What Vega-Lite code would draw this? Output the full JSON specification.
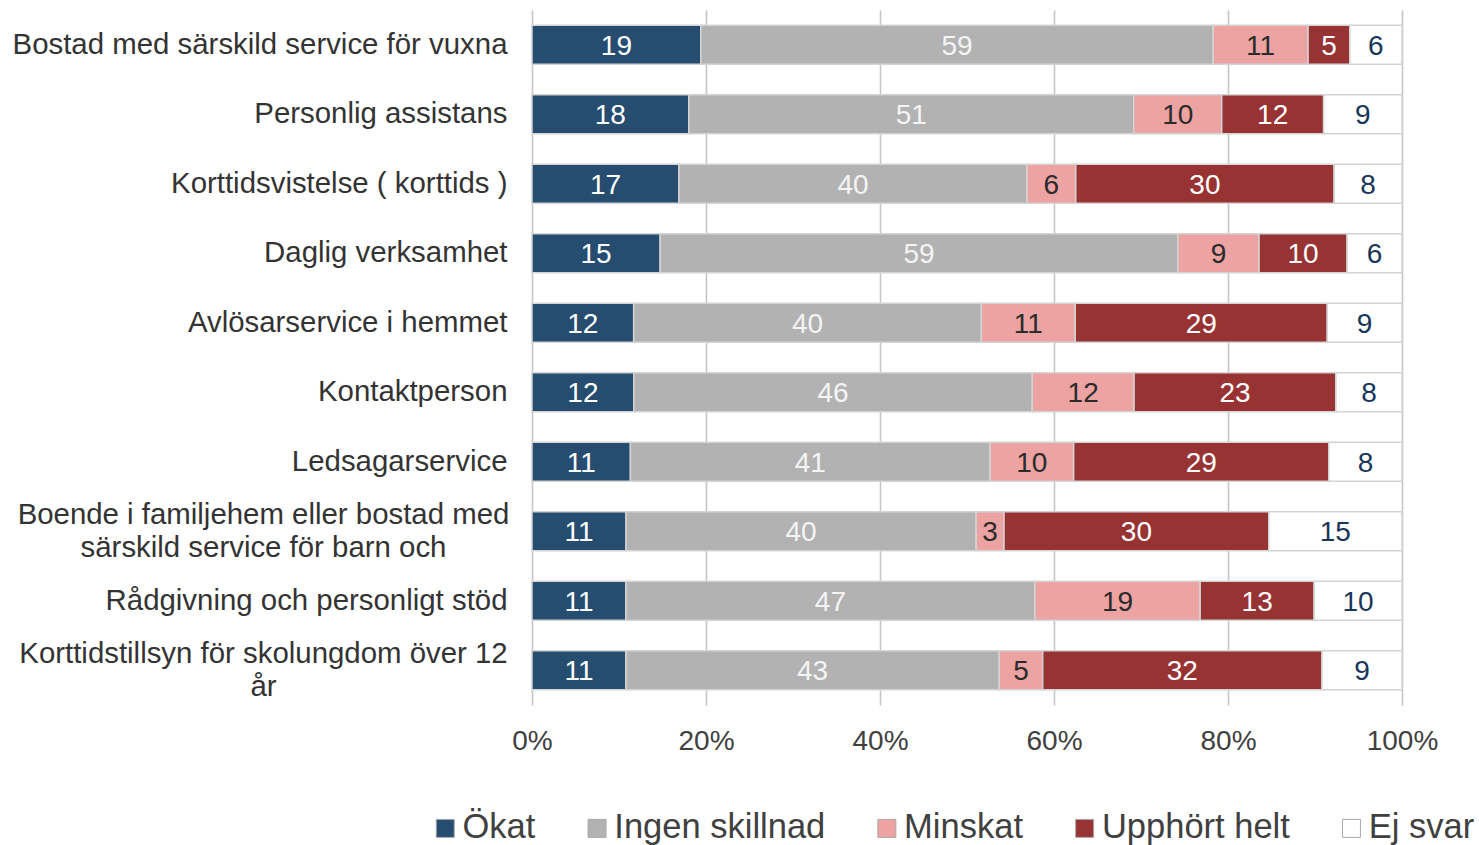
{
  "$schema": "https://vega.github.io/schema/vega-lite/v6.json",
  "width": 870,
  "height": 695,
  "autosize": {"type": "none"},
  "padding": {"left": 532, "top": 10, "right": 77, "bottom": 140},
  "background": "white",
  "config": {
    "view": {"stroke": null},
    "font": "Liberation Sans",
    "axis": {"labelFont": "Liberation Sans", "labelColor": "#404040"}
  },
  "data": {
    "values": [
      {"service": "Bostad med särskild service för vuxna", "cat": "Ökat", "value": 19.4},
      {"service": "Bostad med särskild service för vuxna", "cat": "Ingen skillnad", "value": 58.9},
      {"service": "Bostad med särskild service för vuxna", "cat": "Minskat", "value": 10.9},
      {"service": "Bostad med särskild service för vuxna", "cat": "Upphört helt", "value": 4.8},
      {"service": "Bostad med särskild service för vuxna", "cat": "Ej svar", "value": 6.0},
      {"service": "Personlig assistans", "cat": "Ökat", "value": 18.0},
      {"service": "Personlig assistans", "cat": "Ingen skillnad", "value": 51.1},
      {"service": "Personlig assistans", "cat": "Minskat", "value": 10.1},
      {"service": "Personlig assistans", "cat": "Upphört helt", "value": 11.7},
      {"service": "Personlig assistans", "cat": "Ej svar", "value": 9.0},
      {"service": "Korttidsvistelse ( korttids )", "cat": "Ökat", "value": 16.9},
      {"service": "Korttidsvistelse ( korttids )", "cat": "Ingen skillnad", "value": 40.0},
      {"service": "Korttidsvistelse ( korttids )", "cat": "Minskat", "value": 5.6},
      {"service": "Korttidsvistelse ( korttids )", "cat": "Upphört helt", "value": 29.7},
      {"service": "Korttidsvistelse ( korttids )", "cat": "Ej svar", "value": 7.8},
      {"service": "Daglig verksamhet", "cat": "Ökat", "value": 14.7},
      {"service": "Daglig verksamhet", "cat": "Ingen skillnad", "value": 59.4},
      {"service": "Daglig verksamhet", "cat": "Minskat", "value": 9.3},
      {"service": "Daglig verksamhet", "cat": "Upphört helt", "value": 10.1},
      {"service": "Daglig verksamhet", "cat": "Ej svar", "value": 6.3},
      {"service": "Avlösarservice i hemmet", "cat": "Ökat", "value": 11.7},
      {"service": "Avlösarservice i hemmet", "cat": "Ingen skillnad", "value": 40.0},
      {"service": "Avlösarservice i hemmet", "cat": "Minskat", "value": 10.8},
      {"service": "Avlösarservice i hemmet", "cat": "Upphört helt", "value": 29.0},
      {"service": "Avlösarservice i hemmet", "cat": "Ej svar", "value": 8.6},
      {"service": "Kontaktperson", "cat": "Ökat", "value": 11.7},
      {"service": "Kontaktperson", "cat": "Ingen skillnad", "value": 45.8},
      {"service": "Kontaktperson", "cat": "Minskat", "value": 11.7},
      {"service": "Kontaktperson", "cat": "Upphört helt", "value": 23.2},
      {"service": "Kontaktperson", "cat": "Ej svar", "value": 7.6},
      {"service": "Ledsagarservice", "cat": "Ökat", "value": 11.3},
      {"service": "Ledsagarservice", "cat": "Ingen skillnad", "value": 41.3},
      {"service": "Ledsagarservice", "cat": "Minskat", "value": 9.6},
      {"service": "Ledsagarservice", "cat": "Upphört helt", "value": 29.3},
      {"service": "Ledsagarservice", "cat": "Ej svar", "value": 8.4},
      {"service": "Boende i familjehem eller bostad med\nsärskild service för barn och", "cat": "Ökat", "value": 10.8},
      {"service": "Boende i familjehem eller bostad med\nsärskild service för barn och", "cat": "Ingen skillnad", "value": 40.2},
      {"service": "Boende i familjehem eller bostad med\nsärskild service för barn och", "cat": "Minskat", "value": 3.2},
      {"service": "Boende i familjehem eller bostad med\nsärskild service för barn och", "cat": "Upphört helt", "value": 30.4},
      {"service": "Boende i familjehem eller bostad med\nsärskild service för barn och", "cat": "Ej svar", "value": 15.3},
      {"service": "Rådgivning och personligt stöd", "cat": "Ökat", "value": 10.8},
      {"service": "Rådgivning och personligt stöd", "cat": "Ingen skillnad", "value": 47.0},
      {"service": "Rådgivning och personligt stöd", "cat": "Minskat", "value": 19.0},
      {"service": "Rådgivning och personligt stöd", "cat": "Upphört helt", "value": 13.1},
      {"service": "Rådgivning och personligt stöd", "cat": "Ej svar", "value": 10.1},
      {"service": "Korttidstillsyn för skolungdom över 12\når", "cat": "Ökat", "value": 10.8},
      {"service": "Korttidstillsyn för skolungdom över 12\når", "cat": "Ingen skillnad", "value": 42.9},
      {"service": "Korttidstillsyn för skolungdom över 12\når", "cat": "Minskat", "value": 5.0},
      {"service": "Korttidstillsyn för skolungdom över 12\når", "cat": "Upphört helt", "value": 32.1},
      {"service": "Korttidstillsyn för skolungdom över 12\når", "cat": "Ej svar", "value": 9.2}
    ]
  },
  "transform": [
    {"calculate": "indexof(['Ökat','Ingen skillnad','Minskat','Upphört helt','Ej svar'], datum.cat)", "as": "k"},
    {"stack": "value", "groupby": ["service"], "sort": [{"field": "k", "order": "ascending"}], "offset": "normalize", "as": ["v0", "v1"]},
    {"calculate": "(datum.v0 + datum.v1) / 2", "as": "mid"}
  ],
  "encoding": {
    "y": {
      "field": "service",
      "type": "nominal",
      "sort": null,
      "scale": {"paddingInner": 0.44, "paddingOuter": 0.22},
      "axis": {
        "title": null,
        "domain": false,
        "ticks": false,
        "labelFontSize": 29.4,
        "labelColor": "#333333",
        "labelLimit": 600,
        "labelLineHeight": 33,
        "labelExpr": "split(datum.label, '\\n')",
        "labelAlign": {"condition": {"test": "indexof(datum.value, '\\n') >= 0", "value": "center"}, "value": "right"},
        "labelPadding": {"condition": {"test": "indexof(datum.value, '\\n') >= 0", "value": 269}, "value": 25},
        "labelOffset": {"condition": {"test": "indexof(datum.value, '\\n') >= 0", "value": -16}, "value": 0}
      }
    }
  },
  "layer": [
    {
      "mark": {"type": "bar", "stroke": "#d4d4d4", "strokeWidth": 1.5},
      "encoding": {
        "x": {
          "field": "v0",
          "type": "quantitative",
          "scale": {"domain": [0, 1], "nice": false},
          "axis": {
            "title": null,
            "format": ".0%",
            "values": [0, 0.2, 0.4, 0.6, 0.8, 1],
            "domain": false,
            "ticks": false,
            "grid": true,
            "gridColor": "#c6c6c6",
            "gridWidth": 1.6,
            "labelFontSize": 28,
            "labelPadding": 22,
            "labelFlush": false
          }
        },
        "x2": {"field": "v1"},
        "color": {
          "field": "cat",
          "type": "nominal",
          "sort": ["Ökat", "Ingen skillnad", "Minskat", "Upphört helt", "Ej svar"],
          "scale": {
            "domain": ["Ökat", "Ingen skillnad", "Minskat", "Upphört helt", "Ej svar"],
            "range": ["#264d70", "#b2b2b2", "#eca3a2", "#983334", "#ffffff"]
          },
          "legend": {
            "title": null,
            "orient": "none",
            "direction": "horizontal",
            "legendX": -104,
            "legendY": 801,
            "padding": 0,
            "symbolType": "square",
            "symbolSize": 324,
            "symbolStrokeColor": "#a8a8a8",
            "symbolStrokeWidth": 1,
            "symbolOpacity": 1,
            "labelFontSize": 34.5,
            "labelColor": "#404040",
            "labelFont": "Liberation Sans",
            "labelOffset": 0,
            "columnPadding": 43.8,
            "labelLimit": 400
          }
        }
      }
    },
    {
      "mark": {"type": "text", "fontSize": 28, "baseline": "middle", "align": "center", "dy": 2},
      "encoding": {
        "x": {"field": "mid", "type": "quantitative"},
        "text": {"field": "value", "type": "quantitative", "format": ".0f"},
        "fill": {
          "field": "cat",
          "type": "nominal",
          "scale": {
            "domain": ["Ökat", "Ingen skillnad", "Minskat", "Upphört helt", "Ej svar"],
            "range": ["#ffffff", "#f4f4f4", "#2b2b2b", "#ffffff", "#17365a"]
          },
          "legend": null
        }
      }
    }
  ]
}
